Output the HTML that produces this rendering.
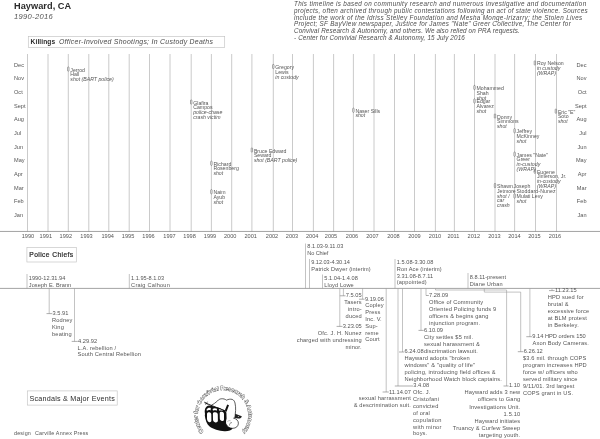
<!DOCTYPE html>
<html><head><meta charset="utf-8"><title>Hayward, CA 1990-2016</title>
<style>
html,body{margin:0;padding:0;background:#fff}
body{width:600px;height:439px;position:relative;overflow:hidden;font-family:"Liberation Sans",sans-serif;color:#555}
#wrap{position:absolute;left:0;top:0;width:600px;height:439px;will-change:transform;transform:translateZ(0)}
.t{position:absolute;white-space:nowrap;font-size:5.2px;line-height:4.75px}
svg{position:absolute;left:0;top:0}
.yr{width:24px;text-align:center;font-size:5.6px;line-height:7px;color:#555}
.mo{font-size:5.6px;line-height:7px;color:#555}
</style></head><body><div id="wrap">
<svg width="600" height="439" viewBox="0 0 600 439">
<rect x="28.30" y="36.50" width="196.40" height="11.10" fill="none" stroke="#c2c2c2" stroke-width="0.65"/>
<line x1="27.50" y1="54.00" x2="27.50" y2="231.60" stroke="#adadad" stroke-width="0.65"/>
<line x1="48.00" y1="54.00" x2="48.00" y2="231.60" stroke="#adadad" stroke-width="0.65"/>
<line x1="68.30" y1="54.00" x2="68.30" y2="231.60" stroke="#adadad" stroke-width="0.65"/>
<line x1="88.80" y1="54.00" x2="88.80" y2="231.60" stroke="#adadad" stroke-width="0.65"/>
<line x1="108.80" y1="54.00" x2="108.80" y2="231.60" stroke="#adadad" stroke-width="0.65"/>
<line x1="129.20" y1="54.00" x2="129.20" y2="231.60" stroke="#adadad" stroke-width="0.65"/>
<line x1="149.50" y1="54.00" x2="149.50" y2="231.60" stroke="#adadad" stroke-width="0.65"/>
<line x1="170.00" y1="54.00" x2="170.00" y2="231.60" stroke="#adadad" stroke-width="0.65"/>
<line x1="191.20" y1="54.00" x2="191.20" y2="231.60" stroke="#adadad" stroke-width="0.65"/>
<line x1="211.40" y1="54.00" x2="211.40" y2="231.60" stroke="#adadad" stroke-width="0.65"/>
<line x1="231.70" y1="54.00" x2="231.70" y2="231.60" stroke="#adadad" stroke-width="0.65"/>
<line x1="251.90" y1="54.00" x2="251.90" y2="231.60" stroke="#adadad" stroke-width="0.65"/>
<line x1="273.30" y1="54.00" x2="273.30" y2="231.60" stroke="#adadad" stroke-width="0.65"/>
<line x1="292.50" y1="54.00" x2="292.50" y2="231.60" stroke="#adadad" stroke-width="0.65"/>
<line x1="313.40" y1="54.00" x2="313.40" y2="231.60" stroke="#adadad" stroke-width="0.65"/>
<line x1="333.60" y1="54.00" x2="333.60" y2="231.60" stroke="#adadad" stroke-width="0.65"/>
<line x1="353.40" y1="54.00" x2="353.40" y2="231.60" stroke="#adadad" stroke-width="0.65"/>
<line x1="374.00" y1="54.00" x2="374.00" y2="231.60" stroke="#adadad" stroke-width="0.65"/>
<line x1="394.50" y1="54.00" x2="394.50" y2="231.60" stroke="#adadad" stroke-width="0.65"/>
<line x1="414.50" y1="54.00" x2="414.50" y2="231.60" stroke="#adadad" stroke-width="0.65"/>
<line x1="435.40" y1="54.00" x2="435.40" y2="231.60" stroke="#adadad" stroke-width="0.65"/>
<line x1="454.40" y1="54.00" x2="454.40" y2="231.60" stroke="#adadad" stroke-width="0.65"/>
<line x1="474.50" y1="54.00" x2="474.50" y2="231.60" stroke="#adadad" stroke-width="0.65"/>
<line x1="495.00" y1="54.00" x2="495.00" y2="231.60" stroke="#adadad" stroke-width="0.65"/>
<line x1="514.60" y1="54.00" x2="514.60" y2="231.60" stroke="#adadad" stroke-width="0.65"/>
<line x1="535.50" y1="54.00" x2="535.50" y2="231.60" stroke="#adadad" stroke-width="0.65"/>
<line x1="556.50" y1="54.00" x2="556.50" y2="231.60" stroke="#adadad" stroke-width="0.65"/>
<line x1="0.00" y1="231.45" x2="600.00" y2="231.45" stroke="#8c8c8c" stroke-width="0.8"/>
<rect x="67.60" y="66.90" width="1.4" height="4.3" rx="0.7" fill="#fff" stroke="#4a4a4a" stroke-width="0.5"/>
<rect x="272.60" y="64.40" width="1.4" height="4.3" rx="0.7" fill="#fff" stroke="#4a4a4a" stroke-width="0.5"/>
<rect x="190.50" y="99.90" width="1.4" height="4.3" rx="0.7" fill="#fff" stroke="#4a4a4a" stroke-width="0.5"/>
<rect x="251.20" y="147.90" width="1.4" height="4.3" rx="0.7" fill="#fff" stroke="#4a4a4a" stroke-width="0.5"/>
<rect x="210.70" y="161.10" width="1.4" height="4.3" rx="0.7" fill="#fff" stroke="#4a4a4a" stroke-width="0.5"/>
<rect x="210.70" y="189.60" width="1.4" height="4.3" rx="0.7" fill="#fff" stroke="#4a4a4a" stroke-width="0.5"/>
<rect x="352.70" y="108.10" width="1.4" height="4.3" rx="0.7" fill="#fff" stroke="#4a4a4a" stroke-width="0.5"/>
<rect x="473.80" y="85.40" width="1.4" height="4.3" rx="0.7" fill="#fff" stroke="#4a4a4a" stroke-width="0.5"/>
<rect x="473.80" y="98.80" width="1.4" height="4.3" rx="0.7" fill="#fff" stroke="#4a4a4a" stroke-width="0.5"/>
<rect x="534.20" y="60.80" width="1.4" height="4.3" rx="0.7" fill="#fff" stroke="#4a4a4a" stroke-width="0.5"/>
<rect x="494.30" y="113.90" width="1.4" height="4.3" rx="0.7" fill="#fff" stroke="#4a4a4a" stroke-width="0.5"/>
<rect x="555.20" y="109.00" width="1.4" height="4.3" rx="0.7" fill="#fff" stroke="#4a4a4a" stroke-width="0.5"/>
<rect x="513.90" y="128.60" width="1.4" height="4.3" rx="0.7" fill="#fff" stroke="#4a4a4a" stroke-width="0.5"/>
<rect x="513.90" y="152.00" width="1.4" height="4.3" rx="0.7" fill="#fff" stroke="#4a4a4a" stroke-width="0.5"/>
<rect x="534.20" y="169.10" width="1.4" height="4.3" rx="0.7" fill="#fff" stroke="#4a4a4a" stroke-width="0.5"/>
<rect x="494.30" y="183.40" width="1.4" height="4.3" rx="0.7" fill="#fff" stroke="#4a4a4a" stroke-width="0.5"/>
<rect x="513.90" y="193.80" width="1.4" height="4.3" rx="0.7" fill="#fff" stroke="#4a4a4a" stroke-width="0.5"/>
<rect x="26.90" y="247.60" width="49.40" height="14.40" fill="none" stroke="#c2c2c2" stroke-width="0.65"/>
<line x1="0.00" y1="288.40" x2="600.00" y2="288.40" stroke="#8c8c8c" stroke-width="0.8"/>
<line x1="27.00" y1="274.00" x2="27.00" y2="288.40" stroke="#9a9a9a" stroke-width="0.6"/>
<line x1="129.30" y1="274.00" x2="129.30" y2="288.40" stroke="#9a9a9a" stroke-width="0.6"/>
<line x1="305.50" y1="243.50" x2="305.50" y2="288.40" stroke="#9a9a9a" stroke-width="0.6"/>
<line x1="309.50" y1="259.00" x2="309.50" y2="288.40" stroke="#9a9a9a" stroke-width="0.6"/>
<line x1="322.50" y1="274.50" x2="322.50" y2="288.40" stroke="#9a9a9a" stroke-width="0.6"/>
<line x1="395.00" y1="259.00" x2="395.00" y2="288.40" stroke="#9a9a9a" stroke-width="0.6"/>
<line x1="468.00" y1="273.00" x2="468.00" y2="288.40" stroke="#9a9a9a" stroke-width="0.6"/>
<line x1="49.20" y1="288.40" x2="49.20" y2="313.60" stroke="#9a9a9a" stroke-width="0.6"/>
<line x1="46.50" y1="313.60" x2="52.30" y2="313.60" stroke="#777" stroke-width="0.6"/>
<line x1="74.50" y1="288.40" x2="74.50" y2="341.40" stroke="#9a9a9a" stroke-width="0.6"/>
<line x1="71.70" y1="341.40" x2="77.80" y2="341.40" stroke="#777" stroke-width="0.6"/>
<line x1="343.40" y1="288.40" x2="343.40" y2="295.80" stroke="#9a9a9a" stroke-width="0.6"/>
<line x1="339.80" y1="295.80" x2="345.50" y2="295.80" stroke="#777" stroke-width="0.6"/>
<line x1="362.60" y1="288.40" x2="362.60" y2="299.20" stroke="#9a9a9a" stroke-width="0.6"/>
<line x1="359.00" y1="299.20" x2="364.60" y2="299.20" stroke="#777" stroke-width="0.6"/>
<line x1="339.80" y1="288.40" x2="339.80" y2="326.40" stroke="#9a9a9a" stroke-width="0.6"/>
<line x1="336.60" y1="326.40" x2="342.50" y2="326.40" stroke="#777" stroke-width="0.6"/>
<line x1="386.20" y1="288.40" x2="386.20" y2="392.00" stroke="#9a9a9a" stroke-width="0.6"/>
<line x1="382.60" y1="392.00" x2="388.80" y2="392.00" stroke="#777" stroke-width="0.6"/>
<line x1="398.00" y1="288.40" x2="398.00" y2="386.00" stroke="#9a9a9a" stroke-width="0.6"/>
<line x1="394.80" y1="386.00" x2="413.00" y2="386.00" stroke="#777" stroke-width="0.6"/>
<line x1="402.50" y1="288.40" x2="402.50" y2="352.00" stroke="#9a9a9a" stroke-width="0.6"/>
<line x1="399.00" y1="352.00" x2="404.30" y2="352.00" stroke="#777" stroke-width="0.6"/>
<line x1="426.00" y1="288.40" x2="426.00" y2="295.50" stroke="#9a9a9a" stroke-width="0.6"/>
<line x1="426.00" y1="295.50" x2="428.80" y2="295.50" stroke="#777" stroke-width="0.6"/>
<line x1="421.00" y1="288.40" x2="421.00" y2="330.40" stroke="#9a9a9a" stroke-width="0.6"/>
<line x1="418.50" y1="330.40" x2="423.70" y2="330.40" stroke="#777" stroke-width="0.6"/>
<polyline points="435.5,288.4 435.5,290 506.6,290 506.6,386.0" fill="none" stroke="#9a9a9a" stroke-width="0.6"/>
<line x1="503.50" y1="386.00" x2="508.60" y2="386.00" stroke="#777" stroke-width="0.6"/>
<polyline points="484.3,288.4 484.3,292.1 520.7,292.1 520.7,351.7" fill="none" stroke="#9a9a9a" stroke-width="0.6"/>
<line x1="517.80" y1="351.70" x2="523.50" y2="351.70" stroke="#777" stroke-width="0.6"/>
<line x1="529.90" y1="288.40" x2="529.90" y2="336.70" stroke="#9a9a9a" stroke-width="0.6"/>
<line x1="526.30" y1="336.70" x2="532.00" y2="336.70" stroke="#777" stroke-width="0.6"/>
<line x1="552.00" y1="288.40" x2="552.00" y2="290.60" stroke="#9a9a9a" stroke-width="0.6"/>
<line x1="549.00" y1="290.60" x2="554.60" y2="290.60" stroke="#777" stroke-width="0.6"/>
<rect x="27.30" y="390.90" width="89.90" height="14.20" fill="none" stroke="#c2c2c2" stroke-width="0.65"/>
<path id="lg" d="M203.81,431.73 A25.3,25.3 0 1 1 242.57,431.39" fill="none"/>
<text font-family="Liberation Sans, sans-serif" font-size="5.7" font-weight="bold" fill="#fff" stroke="#111" stroke-width="0.5" paint-order="stroke"><textPath href="#lg" textLength="114.8" lengthAdjust="spacing">Center for Convivial Research &amp; Autonomy</textPath></text>
<path d="M211.5,405 C213.5,404.4 215.5,402.6 217.6,400.8 C218.6,399.6 219.8,399 221.2,398.8 C223.2,398.5 225.2,399.2 226.6,400.2 C228.2,399.2 230.4,398.9 232.2,399.4 C233.8,400 234.6,401.4 235,403 C235.6,405.5 235.7,408 235.6,410.5 L235.2,415 C235.2,416.6 234.8,417.6 233.6,418.2 C236.2,418.6 238.4,420.6 238.4,423.2 C238.4,426.2 236,428.3 232.8,428.3 C229.8,428.3 227.5,427 226.4,424.5 L224,424 L218,418 L211,410 Z" fill="#fff" stroke="#1a1a1a" stroke-width="0.7" stroke-linejoin="round"/>
<path d="M205.0,414 C204.4,411 204.8,408.6 206.2,407 C207.6,405.6 209.6,405.4 211.6,405.8 L214,406.4 L219,407.8 L224.5,410.2 L226.4,412.5 L226.6,418.5 C226,420.5 225.8,422.5 226.4,424.5 C227.6,427 230,428.3 232.8,428.3 C231.8,430.4 228,431.5 224.5,431.3 C219,431 213,429.2 209.6,426.6 C206.8,424.2 205.2,419.5 204.8,415.5 Z" fill="#111"/>
<path d="M207.0,414 C207.0,412.6 208.2,412.1 209.3,412.3 C210.6,412.5 211.3,413.3 211.3,414.6 L211.4,420.6 C211.3,422 210.3,422.5 209.3,422.2 C207.9,421.7 207.1,420.5 207.0,418.8 Z" fill="#fff"/>
<path d="M212.9,413.8 C212.9,412.6 214.1,412.2 215.4,412.3 C216.9,412.5 217.8,413.3 217.8,414.6 L217.9,420.8 C217.7,422.2 216.6,422.6 215.4,422.4 C214,422.2 213.1,421.2 213.0,419.8 Z" fill="#fff"/>
<path d="M219.7,413.2 C219.7,412 220.8,411.6 221.9,411.7 C223.2,411.9 224,412.7 224,414 L224,419.4 C223.8,420.7 222.9,421.1 221.8,420.9 C220.6,420.7 219.8,419.9 219.8,418.6 Z" fill="#fff"/>
<path d="M206.6,409.3 C207.6,407.7 209.4,407.3 210.8,408 L210.6,410.4 C209.4,409.8 207.9,410 206.9,411 Z" fill="#fff"/>
<path d="M212.6,409 C213.8,408 215.6,408 217,408.8 L216.8,410.8 C215.6,410.2 214.2,410.2 213,410.8 Z" fill="#fff"/>
<path d="M218.8,409.4 C220,408.8 221.6,409 222.8,409.8 L222.6,411 C221.5,410.5 220.2,410.4 219.1,410.8 Z" fill="#eee"/>
<path d="M204.4,402.6 L226.4,411.4" stroke="#111" stroke-width="0.9" fill="none"/>
<path d="M205.4,405 L207.6,401.6 M204.6,401.8 L208.2,404.6" stroke="#111" stroke-width="0.5" fill="none"/>
<path d="M227.2,404.6 L229,405.2 L226.6,411.4 L224.8,410.6 Z" fill="#111"/>
<path d="M235.2,413.8 L241.8,416.2 C241.6,417.8 240,418.7 238.2,418.5 L234.8,417.9 Z" fill="#222"/>
<circle cx="238.3" cy="416.6" r="0.5" fill="#ddd"/>
<path d="M229.6,425.6 C229.2,423.8 230.4,422.4 232,422.6" stroke="#333" stroke-width="0.55" fill="none"/>
<path d="M227.4,421.5 C228.4,420.6 229.6,420.4 230.6,420.8" stroke="#555" stroke-width="0.4" fill="none"/>
</svg>
<div class="t" style="left:14px;top:1px;font-size:9.2px;line-height:11px;font-weight:bold;color:#2a2a2a;letter-spacing:0.05px">Hayward, CA</div>
<div class="t" style="left:14px;top:12.4px;font-size:7.6px;line-height:9px;font-style:italic;color:#555;letter-spacing:0.3px">1990-2016</div>
<div class="t" style="top:1.40px;font-size:6.3px;line-height:6.67px;left:294.00px;color:#4c4c4c;font-style:italic;"><span style="letter-spacing:0.349px">This timeline is based on community research and numerous investigative and documentation</span><br><span style="letter-spacing:0.306px">projects, often archived through public contestations following an act of state violence. Sources</span><br><span style="letter-spacing:0.340px">include the work of the Idriss Stelley Foundation and Mesha Monge-Irizarry; the Stolen Lives</span><br><span style="letter-spacing:0.280px">Project; SF BayView newspaper, Justice for James &quot;Nate&quot; Greer Collective, The Center for</span><br><span style="letter-spacing:0.142px">Convival Research &amp; Autonomy, and others. We also relied on PRA requests.</span><br><span style="letter-spacing:0.153px">- Center for Convivial Research &amp; Autonomy, 15 July 2016</span></div>
<div class="t" style="left:30.6px;top:37.4px;font-size:6.6px;line-height:10px;color:#4a4a4a;"><b style="color:#2a2a2a;letter-spacing:0.1px">Killings</b>&nbsp;&nbsp;<i style="font-size:6.9px;letter-spacing:0.29px">Officer-Involved Shootings; In Custody Deaths</i></div>
<div class="t yr" style="left:15.90px;top:232.8px;">1990</div>
<div class="t yr" style="left:33.80px;top:232.8px;">1991</div>
<div class="t yr" style="left:53.80px;top:232.8px;">1992</div>
<div class="t yr" style="left:74.50px;top:232.8px;">1993</div>
<div class="t yr" style="left:95.70px;top:232.8px;">1994</div>
<div class="t yr" style="left:116.10px;top:232.8px;">1995</div>
<div class="t yr" style="left:136.50px;top:232.8px;">1996</div>
<div class="t yr" style="left:157.50px;top:232.8px;">1997</div>
<div class="t yr" style="left:177.60px;top:232.8px;">1998</div>
<div class="t yr" style="left:198.00px;top:232.8px;">1999</div>
<div class="t yr" style="left:218.20px;top:232.8px;">2000</div>
<div class="t yr" style="left:238.70px;top:232.8px;">2001</div>
<div class="t yr" style="left:260.00px;top:232.8px;">2002</div>
<div class="t yr" style="left:280.00px;top:232.8px;">2003</div>
<div class="t yr" style="left:300.20px;top:232.8px;">2004</div>
<div class="t yr" style="left:319.00px;top:232.8px;">2005</div>
<div class="t yr" style="left:340.00px;top:232.8px;">2006</div>
<div class="t yr" style="left:360.40px;top:232.8px;">2007</div>
<div class="t yr" style="left:381.40px;top:232.8px;">2008</div>
<div class="t yr" style="left:402.40px;top:232.8px;">2009</div>
<div class="t yr" style="left:423.00px;top:232.8px;">2010</div>
<div class="t yr" style="left:441.40px;top:232.8px;">2011</div>
<div class="t yr" style="left:461.80px;top:232.8px;">2012</div>
<div class="t yr" style="left:482.40px;top:232.8px;">2013</div>
<div class="t yr" style="left:502.40px;top:232.8px;">2014</div>
<div class="t yr" style="left:522.40px;top:232.8px;">2015</div>
<div class="t yr" style="left:543.00px;top:232.8px;">2016</div>
<div class="t mo" style="left:14px;top:61.80px;">Dec</div>
<div class="t mo" style="right:13.5px;text-align:right;top:61.80px;">Dec</div>
<div class="t mo" style="left:14px;top:75.46px;">Nov</div>
<div class="t mo" style="right:13.5px;text-align:right;top:75.46px;">Nov</div>
<div class="t mo" style="left:14px;top:89.12px;">Oct</div>
<div class="t mo" style="right:13.5px;text-align:right;top:89.12px;">Oct</div>
<div class="t mo" style="left:14px;top:102.78px;">Sept</div>
<div class="t mo" style="right:13.5px;text-align:right;top:102.78px;">Sept</div>
<div class="t mo" style="left:14px;top:116.44px;">Aug</div>
<div class="t mo" style="right:13.5px;text-align:right;top:116.44px;">Aug</div>
<div class="t mo" style="left:14px;top:130.10px;">Jul</div>
<div class="t mo" style="right:13.5px;text-align:right;top:130.10px;">Jul</div>
<div class="t mo" style="left:14px;top:143.76px;">Jun</div>
<div class="t mo" style="right:13.5px;text-align:right;top:143.76px;">Jun</div>
<div class="t mo" style="left:14px;top:157.42px;">May</div>
<div class="t mo" style="right:13.5px;text-align:right;top:157.42px;">May</div>
<div class="t mo" style="left:14px;top:171.08px;">Apr</div>
<div class="t mo" style="right:13.5px;text-align:right;top:171.08px;">Apr</div>
<div class="t mo" style="left:14px;top:184.74px;">Mar</div>
<div class="t mo" style="right:13.5px;text-align:right;top:184.74px;">Mar</div>
<div class="t mo" style="left:14px;top:198.40px;">Feb</div>
<div class="t mo" style="right:13.5px;text-align:right;top:198.40px;">Feb</div>
<div class="t mo" style="left:14px;top:212.06px;">Jan</div>
<div class="t mo" style="right:13.5px;text-align:right;top:212.06px;">Jan</div>
<div class="t" style="top:67.50px;font-size:5.2px;line-height:4.75px;left:70.30px;">Jerrod<br>Hall<br><i>shot (BART police)</i></div>
<div class="t" style="top:65.00px;font-size:5.2px;line-height:4.75px;left:275.30px;">Gregory<br>Lewis<br><i>in custody</i></div>
<div class="t" style="top:100.50px;font-size:5.2px;line-height:4.75px;left:193.20px;">Glafira<br>Campos<br><i>police-chase</i><br><i>crash victim</i></div>
<div class="t" style="top:148.50px;font-size:5.2px;line-height:4.75px;left:253.90px;">Bruce Edward<br>Seward<br><i>shot (BART police)</i></div>
<div class="t" style="top:161.70px;font-size:5.2px;line-height:4.75px;left:213.40px;">Richard<br>Rosenberg<br><i>shot</i></div>
<div class="t" style="top:190.20px;font-size:5.2px;line-height:4.75px;left:213.40px;">Naim<br>Ayub<br><i>shot</i></div>
<div class="t" style="top:108.70px;font-size:5.2px;line-height:4.75px;left:355.40px;">Naser Sills<br><i>shot</i></div>
<div class="t" style="top:86.00px;font-size:5.2px;line-height:4.75px;left:476.50px;">Mohammed<br>Shah<br><i>shot</i></div>
<div class="t" style="top:99.40px;font-size:5.2px;line-height:4.75px;left:476.50px;">Edgar<br>Alvarez<br><i>shot</i></div>
<div class="t" style="top:61.40px;font-size:5.2px;line-height:4.75px;left:536.90px;">Roy Nelson<br><i>in custody</i><br><i>(WRAP)</i></div>
<div class="t" style="top:114.50px;font-size:5.2px;line-height:4.75px;left:497.00px;">Donny<br>Simmons<br><i>shot</i></div>
<div class="t" style="top:109.60px;font-size:5.2px;line-height:4.75px;left:557.90px;">Eric &quot;E&quot;<br>Soto<br><i>shot</i></div>
<div class="t" style="top:129.20px;font-size:5.2px;line-height:4.75px;left:516.60px;">Jeffrey<br>McKinney<br><i>shot</i></div>
<div class="t" style="top:152.60px;font-size:5.2px;line-height:4.75px;left:516.60px;">James &quot;Nate&quot;<br>Greer<br><i>in-custody</i><br><i>(WRAP)</i></div>
<div class="t" style="top:169.70px;font-size:5.2px;line-height:4.75px;left:536.90px;">Eugene<br>Jimerson, Jr.<br><i>in-custody</i><br><i>(WRAP)</i></div>
<div class="t" style="top:184.00px;font-size:5.2px;line-height:4.75px;left:497.00px;">Shawn<br>Jetmore<br><i>shot /</i><br><i>car</i><br><i>crash</i></div>
<div class="t" style="top:184.00px;font-size:5.2px;line-height:4.75px;left:513.60px;">Joseph<br>&nbsp;&nbsp;<span style="letter-spacing:0.1px">Stoddard-Nunez</span></div>
<div class="t" style="top:194.40px;font-size:5.2px;line-height:4.75px;left:516.60px;">Mulati Levy<br><i>shot</i></div>
<div class="t" style="top:249.80px;font-size:6.7px;line-height:10px;left:29.30px;color:#2a2a2a;-webkit-text-stroke:0.22px #2a2a2a;"><span style="letter-spacing:0.405px">Police Chiefs</span></div>
<div class="t" style="top:275.30px;font-size:5.6px;line-height:6.7px;left:28.80px;"><span style="letter-spacing:0.031px">1990-12.31.94</span><br><span style="letter-spacing:0.076px">Joseph E. Brann</span></div>
<div class="t" style="top:275.30px;font-size:5.6px;line-height:6.7px;left:131.10px;"><span style="letter-spacing:0.002px">1.1.95-8.1.03</span><br><span style="letter-spacing:0.249px">Craig Calhoun</span></div>
<div class="t" style="top:242.80px;font-size:5.6px;line-height:6.7px;left:307.30px;"><span style="letter-spacing:0.023px">8.1.03-9.11.03</span><br><span style="letter-spacing:-0.121px">No Chief</span></div>
<div class="t" style="top:259.30px;font-size:5.6px;line-height:6.7px;left:311.30px;"><span style="letter-spacing:-0.047px">9.12.03-4.30.14</span><br><span style="letter-spacing:0.127px">Patrick Dwyer (interim)</span></div>
<div class="t" style="top:275.20px;font-size:5.6px;line-height:6.7px;left:324.30px;"><span style="letter-spacing:0.041px">5.1.04-1.4.08</span><br><span style="letter-spacing:0.119px">Lloyd Lowe</span></div>
<div class="t" style="top:259.30px;font-size:5.6px;line-height:6.7px;left:396.80px;"><span style="letter-spacing:0.030px">1.5.08-3.30.08</span><br><span style="letter-spacing:0.105px">Ron Ace (interim)</span><br><span style="letter-spacing:0.059px">3.31.08-8.7.11</span><br><span style="letter-spacing:0.153px">(appointed)</span></div>
<div class="t" style="top:273.80px;font-size:5.6px;line-height:6.7px;left:469.80px;"><span style="letter-spacing:0.045px">8.8.11-present</span><br><span style="letter-spacing:0.145px">Diane Urban</span></div>
<div class="t" style="top:310.00px;font-size:5.7px;line-height:6.9px;left:52.60px;">3.5.91</div>
<div class="t" style="top:316.90px;font-size:5.7px;line-height:6.9px;left:52.00px;letter-spacing:0.15px;">Rodney<br>King<br>beating</div>
<div class="t" style="top:337.88px;font-size:5.7px;line-height:6.75px;left:78.10px;">4.29.92</div>
<div class="t" style="top:344.62px;font-size:5.7px;line-height:6.75px;left:77.50px;letter-spacing:0.15px;">L.A. rebellion /<br>South Central Rebellion</div>
<div class="t" style="top:292.25px;font-size:5.7px;line-height:6.8px;left:345.80px;">7.5.05</div>
<div class="t" style="top:299.05px;font-size:5.7px;line-height:6.8px;right:238.20px;text-align:right;letter-spacing:0.15px;">Tasers<br>intro-<br>duced</div>
<div class="t" style="top:295.65px;font-size:5.7px;line-height:6.8px;left:364.90px;">9.19.06</div>
<div class="t" style="top:302.45px;font-size:5.7px;line-height:6.8px;left:365.20px;letter-spacing:0.15px;">Copley<br>Press<br>Inc. V.<br>Sup-<br>reme<br>Court</div>
<div class="t" style="top:322.75px;font-size:5.7px;line-height:7.0px;left:342.80px;">3.23.05</div>
<div class="t" style="top:329.75px;font-size:5.7px;line-height:7.0px;right:238.20px;text-align:right;letter-spacing:0.15px;">Ofc. J. H. Nunez<br>charged with undressing<br>minor.</div>
<div class="t" style="top:388.55px;font-size:5.7px;line-height:6.6px;left:389.10px;">11.14.07</div>
<div class="t" style="top:395.15px;font-size:5.7px;line-height:6.6px;right:189.00px;text-align:right;letter-spacing:0.15px;">sexual harrassment<br>&amp; descrimination suit.</div>
<div class="t" style="top:382.42px;font-size:5.7px;line-height:6.86px;left:413.30px;">3.4.08</div>
<div class="t" style="top:389.28px;font-size:5.7px;line-height:6.86px;left:413.00px;letter-spacing:0.15px;">Ofc. J.<br><span style="letter-spacing:0.217px">Cristofani</span><br><span style="letter-spacing:0.162px">convicted</span><br>of oral<br><span style="letter-spacing:0.276px">copulation</span><br><span style="letter-spacing:0.278px">with minor</span><br>boys.</div>
<div class="t" style="top:348.43px;font-size:5.7px;line-height:6.85px;left:404.60px;">6.24.08</div>
<div class="t" style="top:355.28px;font-size:5.7px;line-height:6.85px;left:404.50px;letter-spacing:0.15px;">Hayward adopts &quot;broken<br>windows&quot; &amp; &quot;quality of life&quot;<br>policing, introducing field offices &amp;<br>Neighborhood Watch block captains.</div>
<div class="t" style="top:291.88px;font-size:5.7px;line-height:6.95px;left:429.10px;">7.28.09</div>
<div class="t" style="top:298.82px;font-size:5.7px;line-height:6.95px;left:429.00px;letter-spacing:0.15px;">Office of Community<br>Oriented Policing funds 9<br>officers &amp; begins gang<br>injunction program.</div>
<div class="t" style="top:326.75px;font-size:5.7px;line-height:7.0px;left:424.00px;">6.10.09</div>
<div class="t" style="top:333.75px;font-size:5.7px;line-height:7.0px;left:424.00px;letter-spacing:0.15px;">City settles $5 mil.<br>sexual harassment &amp;<br>discrimation lawsuit.</div>
<div class="t" style="top:382.30px;font-size:5.7px;line-height:7.1px;left:508.90px;">1.10</div>
<div class="t" style="top:389.40px;font-size:5.7px;line-height:7.1px;right:79.70px;text-align:right;letter-spacing:0.15px;">Hayward adds 3 new<br>officers to Gang<br>Investigations Unit.<br>1.5.10<br>Hayward initiates<br>Truancy &amp; Curfew Sweep<br>targeting youth.</div>
<div class="t" style="top:348.10px;font-size:5.7px;line-height:6.9px;left:523.80px;">6.26.12</div>
<div class="t" style="top:355.00px;font-size:5.7px;line-height:6.9px;left:523.00px;letter-spacing:0.15px;">$3.6 mil. through COPS<br>program increases HPD<br>force w/ officers who<br>served military since<br>9/11/01. 3rd largest<br>COPS grant in US.</div>
<div class="t" style="top:333.30px;font-size:5.7px;line-height:6.5px;left:532.30px;">9.14 HPD orders 150</div>
<div class="t" style="top:339.80px;font-size:5.7px;line-height:6.5px;left:532.50px;letter-spacing:0.15px;">Axon Body Cameras.</div>
<div class="t" style="top:286.93px;font-size:5.7px;line-height:7.05px;left:554.90px;">11.23.15</div>
<div class="t" style="top:293.98px;font-size:5.7px;line-height:7.05px;left:547.80px;letter-spacing:0.15px;">HPD sued for<br>brutal &amp;<br>excessive force<br>at BLM protest<br>in Berkeley.</div>
<div class="t" style="top:393.80px;font-size:7.2px;line-height:10px;left:29.50px;color:#2a2a2a;"><span style="letter-spacing:0.226px">Scandals &amp; Major Events</span></div>
<div class="t" style="top:429.60px;font-size:5.4px;line-height:7px;left:14.00px;"><span style="letter-spacing:0.185px">design</span></div>
<div class="t" style="top:429.60px;font-size:5.4px;line-height:7px;left:35.00px;"><span style="letter-spacing:0.188px">Carville Annex Press</span></div>
</div></body></html>
